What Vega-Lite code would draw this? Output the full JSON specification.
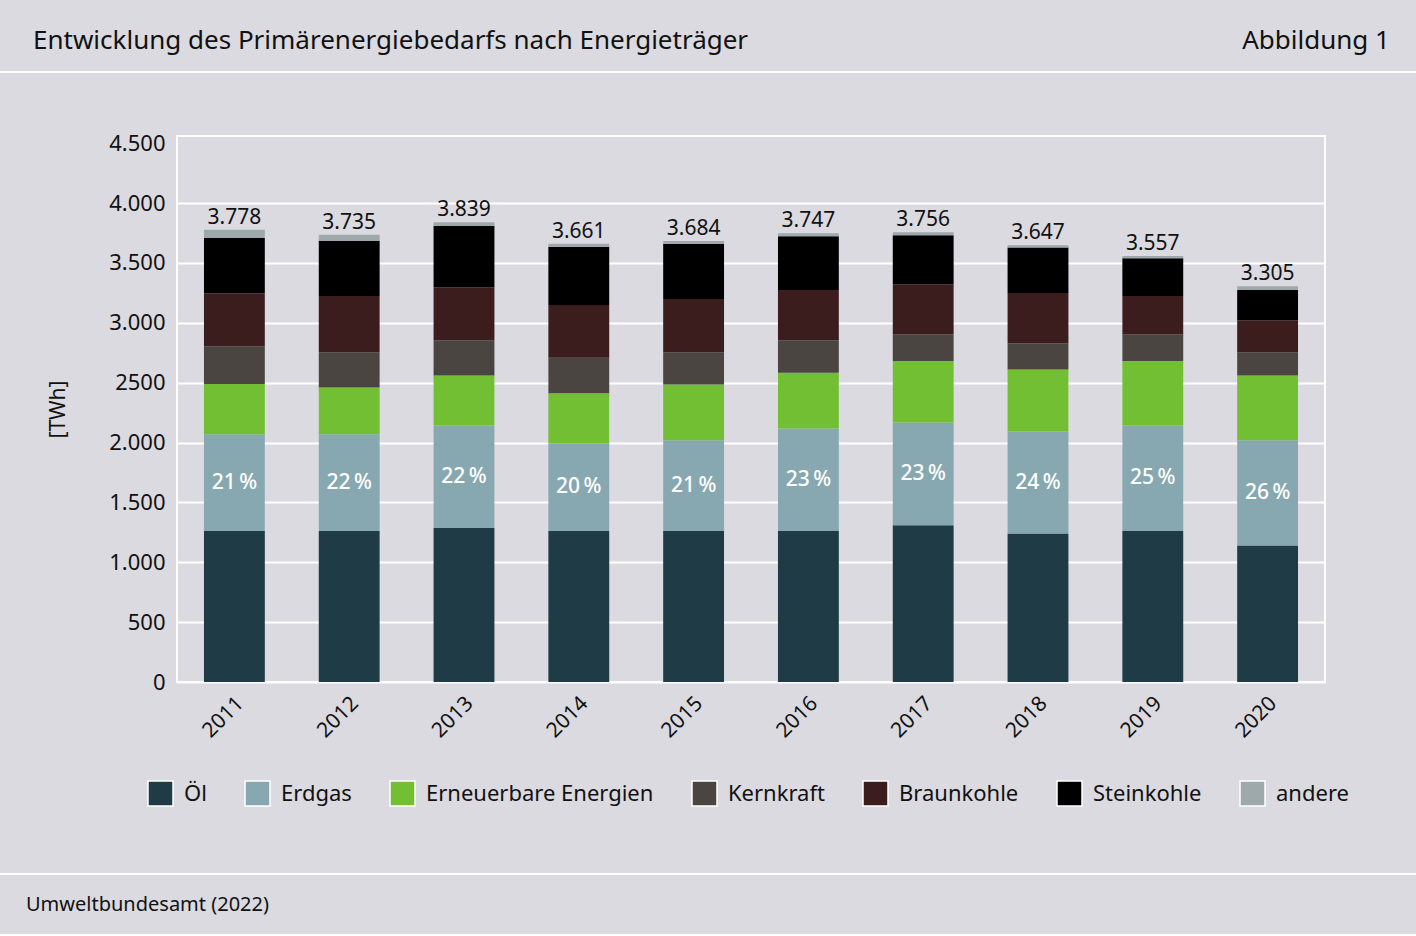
{
  "$schema": "https://vega.github.io/schema/vega-lite/v6.json",
  "description": "Entwicklung des Primärenergiebedarfs nach Energieträger, 2011-2020",
  "background": "#dbdae0",
  "padding": 0,
  "datasets": {
    "energie": [
      {"jahr": "2011", "traeger": "Öl", "twh": 1262},
      {"jahr": "2011", "traeger": "Erdgas", "twh": 808},
      {"jahr": "2011", "traeger": "Erneuerbare Energien", "twh": 418},
      {"jahr": "2011", "traeger": "Kernkraft", "twh": 317},
      {"jahr": "2011", "traeger": "Braunkohle", "twh": 440},
      {"jahr": "2011", "traeger": "Steinkohle", "twh": 465},
      {"jahr": "2011", "traeger": "andere", "twh": 68},
      {"jahr": "2012", "traeger": "Öl", "twh": 1262},
      {"jahr": "2012", "traeger": "Erdgas", "twh": 808},
      {"jahr": "2012", "traeger": "Erneuerbare Energien", "twh": 390},
      {"jahr": "2012", "traeger": "Kernkraft", "twh": 295},
      {"jahr": "2012", "traeger": "Braunkohle", "twh": 468},
      {"jahr": "2012", "traeger": "Steinkohle", "twh": 462},
      {"jahr": "2012", "traeger": "andere", "twh": 50},
      {"jahr": "2013", "traeger": "Öl", "twh": 1287},
      {"jahr": "2013", "traeger": "Erdgas", "twh": 855},
      {"jahr": "2013", "traeger": "Erneuerbare Energien", "twh": 418},
      {"jahr": "2013", "traeger": "Kernkraft", "twh": 295},
      {"jahr": "2013", "traeger": "Braunkohle", "twh": 441},
      {"jahr": "2013", "traeger": "Steinkohle", "twh": 514},
      {"jahr": "2013", "traeger": "andere", "twh": 29},
      {"jahr": "2014", "traeger": "Öl", "twh": 1262},
      {"jahr": "2014", "traeger": "Erdgas", "twh": 733},
      {"jahr": "2014", "traeger": "Erneuerbare Energien", "twh": 417},
      {"jahr": "2014", "traeger": "Kernkraft", "twh": 295},
      {"jahr": "2014", "traeger": "Braunkohle", "twh": 441},
      {"jahr": "2014", "traeger": "Steinkohle", "twh": 487},
      {"jahr": "2014", "traeger": "andere", "twh": 26},
      {"jahr": "2015", "traeger": "Öl", "twh": 1262},
      {"jahr": "2015", "traeger": "Erdgas", "twh": 758},
      {"jahr": "2015", "traeger": "Erneuerbare Energien", "twh": 465},
      {"jahr": "2015", "traeger": "Kernkraft", "twh": 270},
      {"jahr": "2015", "traeger": "Braunkohle", "twh": 443},
      {"jahr": "2015", "traeger": "Steinkohle", "twh": 462},
      {"jahr": "2015", "traeger": "andere", "twh": 24},
      {"jahr": "2016", "traeger": "Öl", "twh": 1262},
      {"jahr": "2016", "traeger": "Erdgas", "twh": 855},
      {"jahr": "2016", "traeger": "Erneuerbare Energien", "twh": 465},
      {"jahr": "2016", "traeger": "Kernkraft", "twh": 273},
      {"jahr": "2016", "traeger": "Braunkohle", "twh": 418},
      {"jahr": "2016", "traeger": "Steinkohle", "twh": 450},
      {"jahr": "2016", "traeger": "andere", "twh": 24},
      {"jahr": "2017", "traeger": "Öl", "twh": 1309},
      {"jahr": "2017", "traeger": "Erdgas", "twh": 859},
      {"jahr": "2017", "traeger": "Erneuerbare Energien", "twh": 512},
      {"jahr": "2017", "traeger": "Kernkraft", "twh": 225},
      {"jahr": "2017", "traeger": "Braunkohle", "twh": 416},
      {"jahr": "2017", "traeger": "Steinkohle", "twh": 410},
      {"jahr": "2017", "traeger": "andere", "twh": 25},
      {"jahr": "2018", "traeger": "Öl", "twh": 1240},
      {"jahr": "2018", "traeger": "Erdgas", "twh": 852},
      {"jahr": "2018", "traeger": "Erneuerbare Energien", "twh": 518},
      {"jahr": "2018", "traeger": "Kernkraft", "twh": 218},
      {"jahr": "2018", "traeger": "Braunkohle", "twh": 420},
      {"jahr": "2018", "traeger": "Steinkohle", "twh": 380},
      {"jahr": "2018", "traeger": "andere", "twh": 19},
      {"jahr": "2019", "traeger": "Öl", "twh": 1262},
      {"jahr": "2019", "traeger": "Erdgas", "twh": 880},
      {"jahr": "2019", "traeger": "Erneuerbare Energien", "twh": 538},
      {"jahr": "2019", "traeger": "Kernkraft", "twh": 225},
      {"jahr": "2019", "traeger": "Braunkohle", "twh": 318},
      {"jahr": "2019", "traeger": "Steinkohle", "twh": 317},
      {"jahr": "2019", "traeger": "andere", "twh": 17},
      {"jahr": "2020", "traeger": "Öl", "twh": 1140},
      {"jahr": "2020", "traeger": "Erdgas", "twh": 880},
      {"jahr": "2020", "traeger": "Erneuerbare Energien", "twh": 540},
      {"jahr": "2020", "traeger": "Kernkraft", "twh": 195},
      {"jahr": "2020", "traeger": "Braunkohle", "twh": 267},
      {"jahr": "2020", "traeger": "Steinkohle", "twh": 251},
      {"jahr": "2020", "traeger": "andere", "twh": 32}
    ],
    "summen": [
      {"jahr": "2011", "gesamt": 3778, "anteil": "21\u2009%"},
      {"jahr": "2012", "gesamt": 3735, "anteil": "22\u2009%"},
      {"jahr": "2013", "gesamt": 3839, "anteil": "22\u2009%"},
      {"jahr": "2014", "gesamt": 3661, "anteil": "20\u2009%"},
      {"jahr": "2015", "gesamt": 3684, "anteil": "21\u2009%"},
      {"jahr": "2016", "gesamt": 3747, "anteil": "23\u2009%"},
      {"jahr": "2017", "gesamt": 3756, "anteil": "23\u2009%"},
      {"jahr": "2018", "gesamt": 3647, "anteil": "24\u2009%"},
      {"jahr": "2019", "gesamt": 3557, "anteil": "25\u2009%"},
      {"jahr": "2020", "gesamt": 3305, "anteil": "26\u2009%"}
    ]
  },
  "spacing": 0,
  "bounds": "flush",
  "vconcat": [
    {
      "spacing": 0,
      "bounds": "flush",
      "hconcat": [
        {
          "width": 1100, "height": 71,
          "data": {"values": []},
          "mark": "point",
          "title": {"text": "Entwicklung des Primärenergiebedarfs nach Energieträger", "anchor": "start", "dx": 33, "offset": -54, "fontSize": 26, "fontWeight": "normal", "color": "#111111"}
        },
        {
          "width": 316, "height": 71,
          "data": {"values": []},
          "mark": "point",
          "title": {"text": "Abbildung 1", "anchor": "end", "dx": -26, "offset": -54, "fontSize": 26, "fontWeight": "normal", "color": "#111111"}
        }
      ]
    },
    {"width": 1416, "height": 71, "data": {"values": []}, "mark": "point"},
    {"width": 1416, "height": 2, "data": {"values": []}, "mark": "point", "view": {"fill": "white", "stroke": null}},
    {"width": 1416, "height": 63, "data": {"values": []}, "mark": "point"},
    {
      "spacing": 0,
      "bounds": "flush",
      "hconcat": [
        {"width": 177, "height": 546, "data": {"values": []}, "mark": "point"},
        {
          "width": 1148,
          "height": 546,
          "view": {"stroke": "white", "strokeWidth": 2},
          "layer": [
            {
              "data": {"name": "energie"},
              "transform": [
                {"calculate": "indexof(['Öl','Erdgas','Erneuerbare Energien','Kernkraft','Braunkohle','Steinkohle','andere'], datum.traeger)", "as": "rang"},
                {"stack": "twh", "groupby": ["jahr"], "sort": [{"field": "rang", "order": "ascending"}], "as": ["unten", "oben"]}
              ],
              "mark": {"type": "bar"},
              "encoding": {
                "x": {
                  "field": "jahr", "type": "ordinal",
                  "scale": {"paddingInner": 0.47, "paddingOuter": 0.235},
                  "axis": {"title": null, "labelAngle": -45, "labelAlign": "right", "labelBaseline": "middle", "labelOffset": 6, "labelPadding": 18, "labelFontSize": 21, "labelColor": "#111111", "ticks": false, "tickSize": 0, "domain": false}
                },
                "y": {
                  "field": "unten", "type": "quantitative",
                  "scale": {"domain": [0, 4560], "nice": false},
                  "axis": {
                    "title": "[TWh]", "values": [0, 500, 1000, 1500, 2000, 2500, 3000, 3500, 4000, 4500],
                    "format": ",d", "labelExpr": "datum.value == 2500 ? '2500' : datum.label",
                    "labelFontSize": 22, "labelColor": "#111111", "labelPadding": 12,
                    "ticks": false, "tickSize": 0, "domain": false,
                    "grid": true, "gridColor": "white", "gridWidth": 2,
                    "gridOpacity": {"condition": {"test": "datum.value >= 4500", "value": 0}, "value": 1},
                    "titleFontSize": 21, "titleFontWeight": "normal", "titleColor": "#111111",
                    "titleX": -119, "titleY": 273, "titleAlign": "center", "titleBaseline": "middle"
                  }
                },
                "y2": {"field": "oben"},
                "color": {
                  "field": "traeger", "type": "nominal",
                  "scale": {
                    "domain": ["Öl", "Erdgas", "Erneuerbare Energien", "Kernkraft", "Braunkohle", "Steinkohle", "andere"],
                    "range": ["#1f3b45", "#87a8b0", "#72bf33", "#4a4541", "#3b1d1e", "#000000", "#9da9aa"]
                  },
                  "legend": {
                    "title": null, "orient": "none", "legendX": 147, "legendY": 780, "direction": "horizontal",
                    "symbolType": "square", "symbolSize": 625, "symbolStrokeColor": "white", "symbolStrokeWidth": 1.5,
                    "labelFontSize": 22, "labelOffset": 10, "labelLimit": 400, "columnPadding": 35, "labelColor": "#111111"
                  }
                }
              }
            },
            {
              "data": {"name": "summen"},
              "mark": {"type": "text", "baseline": "alphabetic", "dy": -6, "fontSize": 21, "color": "#111111"},
              "encoding": {
                "x": {"field": "jahr", "type": "ordinal"},
                "y": {"field": "gesamt", "type": "quantitative", "scale": {"domain": [0, 4560], "nice": false}},
                "text": {"field": "gesamt", "type": "quantitative", "format": ",d"}
              }
            },
            {
              "data": {"name": "energie"},
              "transform": [
                {"calculate": "indexof(['Öl','Erdgas','Erneuerbare Energien','Kernkraft','Braunkohle','Steinkohle','andere'], datum.traeger)", "as": "rang"},
                {"stack": "twh", "groupby": ["jahr"], "sort": [{"field": "rang", "order": "ascending"}], "as": ["unten", "oben"]},
                {"filter": "datum.traeger === 'Erdgas'"},
                {"lookup": "jahr", "from": {"data": {"name": "summen"}, "key": "jahr", "fields": ["anteil"]}},
                {"calculate": "(datum.unten + datum.oben) / 2", "as": "mitte"}
              ],
              "mark": {"type": "text", "baseline": "middle", "fontSize": 21, "fontWeight": 500, "color": "white"},
              "encoding": {
                "x": {"field": "jahr", "type": "ordinal"},
                "y": {"field": "mitte", "type": "quantitative", "scale": {"domain": [0, 4560], "nice": false}},
                "text": {"field": "anteil"}
              }
            }
          ]
        }
      ]
    },
    {"width": 1416, "height": 737, "data": {"values": []}, "mark": "point"},
    {"width": 1416, "height": 2, "data": {"values": []}, "mark": "point", "view": {"fill": "white", "stroke": null}},
    {
      "width": 1416, "height": 59,
      "data": {"values": []},
      "mark": "point",
      "title": {"text": "Umweltbundesamt (2022)", "anchor": "start", "dx": 26, "offset": -40, "fontSize": 20, "fontWeight": "normal", "color": "#111111"}
    },
    {"width": 1416, "height": 2, "data": {"values": []}, "mark": "point", "view": {"fill": "white", "stroke": null}}
  ],
  "config": {
    "font": "Noto Sans",
    "view": {"stroke": null},
    "locale": {"number": {"decimal": ",", "thousands": ".", "grouping": [3], "currency": ["", " €"]}}
  }
}
